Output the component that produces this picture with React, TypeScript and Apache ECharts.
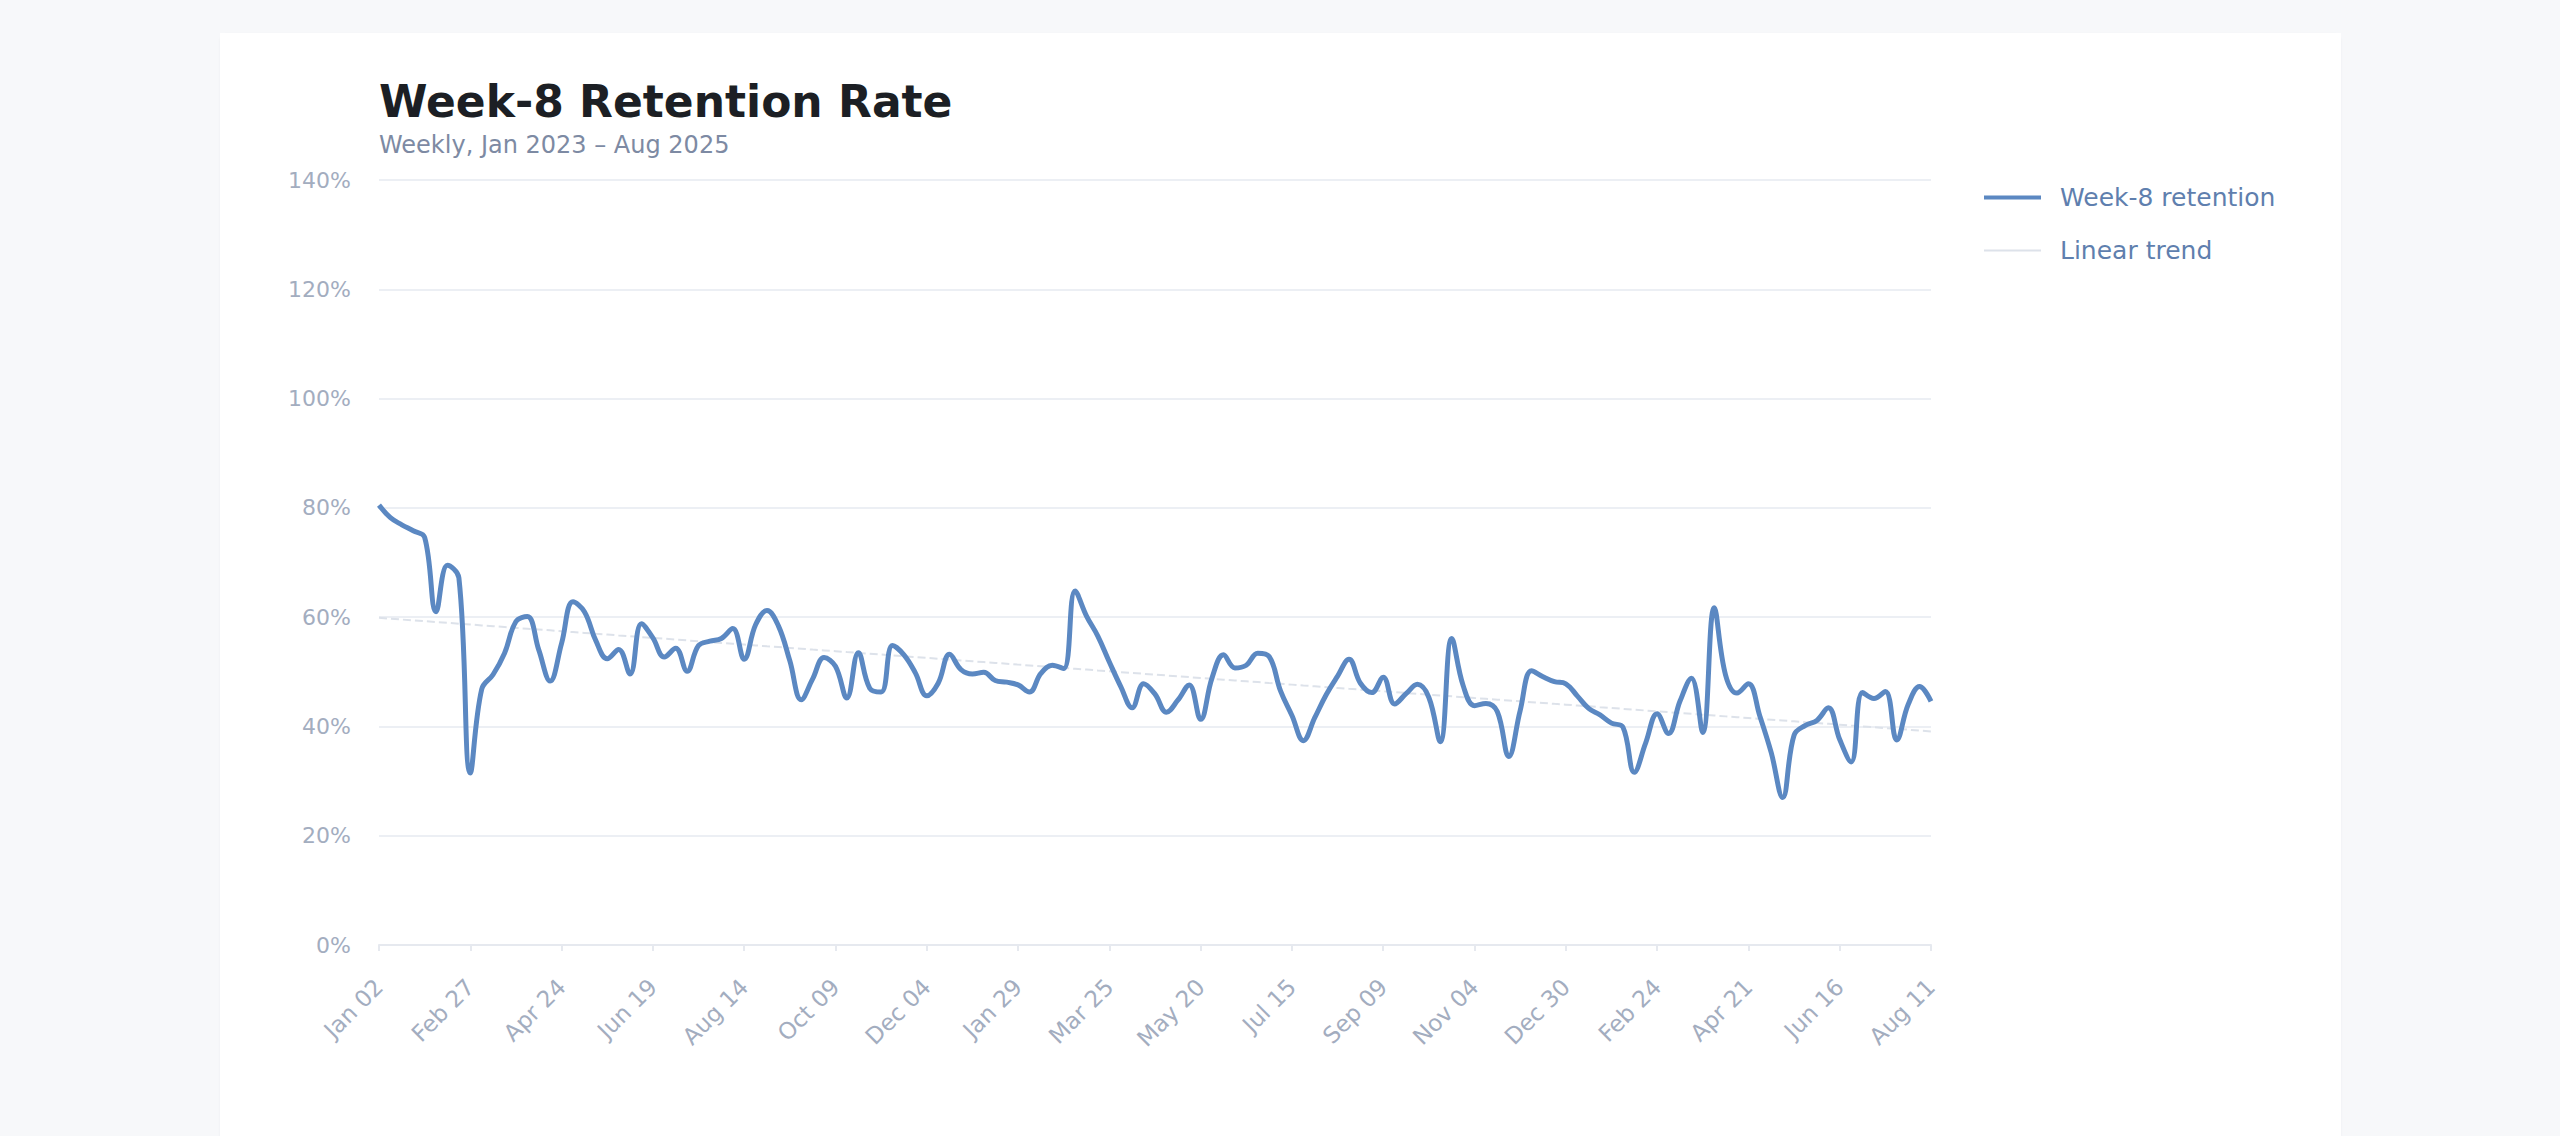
import React, { useEffect, useRef } from "react";
import * as echarts from "echarts";

const TITLE = "Week-8 Retention Rate";
const SUBTITLE = "Weekly, Jan 2023 – Aug 2025";
const SERIES_NAME = "Week-8 retention";
const TREND_NAME = "Linear trend";
const START_DATE = "2023-01-02";
const MONTHS = ["Jan", "Feb", "Mar", "Apr", "May", "Jun", "Jul", "Aug", "Sep", "Oct", "Nov", "Dec"];

// Week-8 retention (%) per weekly cohort
const RETENTION = [
  80.5, 78.2, 76.9, 75.8, 74.6, 61.0, 69.5, 67.2, 31.5, 46.8,
  49.5, 53.4, 59.2, 60.1, 54.0, 48.3, 55.2, 62.8, 61.0, 55.7,
  52.4, 54.1, 49.6, 58.8, 56.2, 52.7, 54.3, 50.1, 54.8, 55.6,
  56.1, 57.9, 52.3, 58.6, 61.2, 58.4, 52.0, 44.9, 48.7, 52.6,
  51.0, 45.2, 53.5, 47.0, 46.3, 54.8, 53.1, 49.8, 45.6, 47.9,
  53.2, 50.4, 49.6, 49.9, 48.4, 48.1, 47.6, 46.3, 49.7, 51.2,
  50.6, 64.8, 60.2, 56.5, 51.8, 47.3, 43.4, 47.8, 45.9, 42.6,
  44.8, 47.6, 41.3, 48.9, 53.1, 50.7, 51.2, 53.4, 52.8, 46.5,
  42.0, 37.4, 41.6, 45.8, 49.2, 52.3, 47.9, 46.2, 49.0, 44.1,
  46.0, 47.7, 45.3, 37.2, 56.1, 47.5, 43.8, 44.2, 42.7, 34.5,
  42.9, 50.2, 49.1, 48.2, 47.8, 45.6, 43.3, 42.1, 40.6, 39.9,
  31.6, 37.0, 42.3, 38.7, 44.6, 48.8, 38.9, 61.7, 49.4, 46.1,
  47.8, 41.9, 35.2, 27.0, 38.4, 40.2, 41.1, 43.4, 37.6, 33.5,
  46.2, 45.1, 46.4, 37.5, 44.0, 47.3, 44.6,
];

const Y_MIN = 0;
const Y_MAX = 140;
const Y_STEP = 20;

function buildWeeks(start: string, n: number): string[] {
  const out: string[] = [];
  const d0 = new Date(start + "T00:00:00Z");
  for (let i = 0; i < n; i++) {
    const d = new Date(d0.getTime() + i * 7 * 86400000);
    const dd = String(d.getUTCDate()).padStart(2, "0");
    out.push(`${MONTHS[d.getUTCMonth()]} ${dd}`);
  }
  return out;
}

function linearTrend(values: number[]): number[] {
  const n = values.length;
  let sx = 0, sy = 0, sxx = 0, sxy = 0;
  values.forEach((v, i) => { sx += i; sy += v; sxx += i * i; sxy += i * v; });
  const slope = (n * sxy - sx * sy) / (n * sxx - sx * sx);
  const icpt = (sy - slope * sx) / n;
  return values.map((_, i) => +(icpt + slope * i).toFixed(2));
}

const WEEKS = buildWeeks(START_DATE, RETENTION.length);
const TREND = linearTrend(RETENTION);

const LINE_COLOR = "#5b88c2";
const TREND_COLOR = "#dde2ea";

export default function App() {
  const ref = useRef<HTMLDivElement>(null);
  useEffect(() => {
    if (!ref.current) return;
    const chart = echarts.init(ref.current, undefined, { renderer: "svg" });
    chart.setOption({
      animation: false,
      backgroundColor: "#ffffff",
      textStyle: { fontFamily: "DejaVu Sans" },
      title: [
        {
          text: TITLE,
          left: 159,
          top: 46,
          padding: 0,
          textStyle: { fontSize: 44, fontWeight: "bold", color: "#1c1f24", fontFamily: "DejaVu Sans" },
        },
        {
          text: SUBTITLE,
          left: 159,
          top: 100,
          padding: 0,
          textStyle: { fontSize: 24, fontWeight: "normal", color: "#7d8aa3", fontFamily: "DejaVu Sans" },
        },
      ],
      legend: {
        orient: "vertical",
        left: 1759,
        top: 147,
        itemWidth: 57,
        itemHeight: 26,
        itemGap: 28,
        textStyle: { fontSize: 25, color: "#5f7fae", padding: [0, 0, 0, 14] },
        data: [
          { name: SERIES_NAME, icon: "path://M0,11 L57,11 L57,15 L0,15 Z", itemStyle: { color: LINE_COLOR } },
          { name: TREND_NAME, icon: "path://M0,12 L57,12 L57,14 L0,14 Z", itemStyle: { color: TREND_COLOR } },
        ],
      },
      grid: { left: 159, right: 410, top: 147, bottom: 228, containLabel: false },
      xAxis: {
        type: "category",
        data: WEEKS,
        boundaryGap: false,
        axisLine: { show: true, lineStyle: { color: "#e6e9ef", width: 2 } },
        axisTick: { show: true, interval: 7, length: 6, lineStyle: { color: "#e6e9ef", width: 2 } },
        axisLabel: { interval: 7, rotate: 45, margin: 38, fontSize: 23, color: "#a3adbf" },
        splitLine: { show: false },
      },
      yAxis: {
        type: "value",
        min: Y_MIN,
        max: Y_MAX,
        interval: Y_STEP,
        axisLine: { show: false },
        axisTick: { show: false },
        axisLabel: { formatter: "{value}%", fontSize: 22, color: "#a3adbf", margin: 28 },
        splitLine: { lineStyle: { color: "#eceff4", width: 2 } },
      },
      series: [
        {
          name: SERIES_NAME,
          type: "line",
          data: RETENTION,
          smooth: 0.4,
          symbol: "none",
          lineStyle: { color: LINE_COLOR, width: 5 },
          itemStyle: { color: LINE_COLOR },
          z: 3,
        },
        {
          name: TREND_NAME,
          type: "line",
          data: TREND,
          symbol: "none",
          lineStyle: { color: TREND_COLOR, width: 2, type: "dashed" },
          itemStyle: { color: TREND_COLOR },
          z: 2,
        },
      ],
    });
    return () => chart.dispose();
  }, []);

  return (
    <div style={{ position: "fixed", inset: 0, background: "#f7f8fa", overflow: "hidden" }}>
      <div
        style={{
          position: "absolute",
          left: 220,
          top: 33,
          width: 2121,
          height: 1140,
          background: "#ffffff",
          borderRadius: 8,
          boxShadow: "0 1px 3px rgba(20,30,50,0.05)",
        }}
      >
        <div ref={ref} style={{ width: 2121, height: 1140 }} />
      </div>
    </div>
  );
}
